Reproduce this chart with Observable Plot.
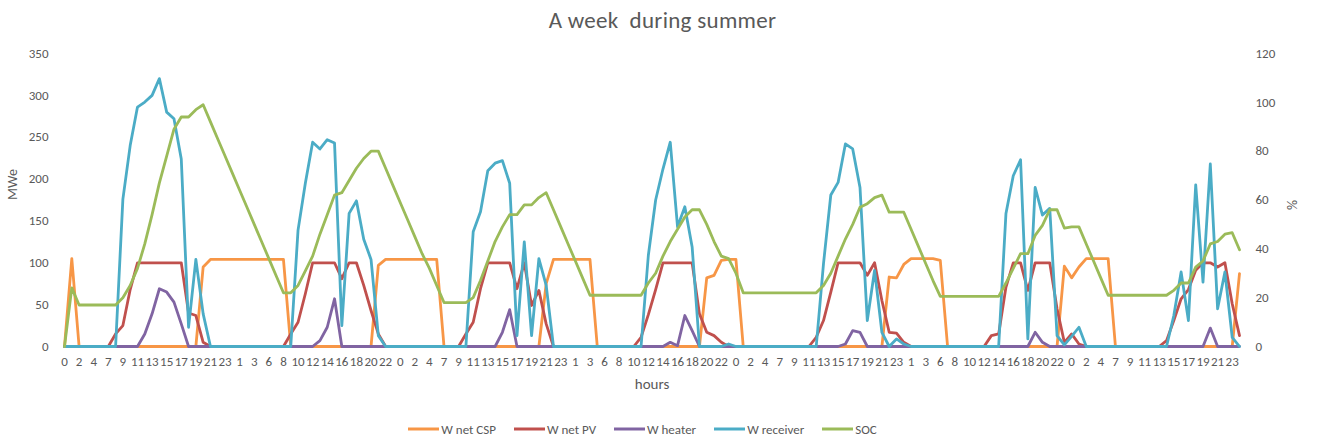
<!DOCTYPE html>
<html><head><meta charset="utf-8">
<script src="https://cdn.jsdelivr.net/npm/d3@7"></script>
<script src="https://cdn.jsdelivr.net/npm/@observablehq/plot@0.6"></script>
<style>
html,body{margin:0;padding:0;background:#fff}
body{width:1325px;height:444px;overflow:hidden;font-family:Carlito,Calibri,Lato,sans-serif;color:#595959}
#title{height:38px;line-height:40px;text-align:center;font-size:23px;white-space:pre;letter-spacing:0.3px}
#chart svg{display:block}
#legend{display:flex;justify-content:center;align-items:center;height:44px;font-size:13px;padding-right:40px;box-sizing:border-box;padding-top:14px}
.item{display:flex;align-items:center;margin:0 9px}
.item svg{margin-right:2px}
</style></head>
<body>
<div id="title">A week  during summer</div>
<div id="chart"></div>
<div id="legend"></div>
<script>
// hour categories (hour 5 absent in the source series)
const dayHours = [0,1,2,3,4,6,7,8,9,10,11,12,13,14,15,16,17,18,19,20,21,22,23];
const hourCats = [].concat(dayHours, dayHours, dayHours, dayHours, dayHours, dayHours, dayHours, [0]);

const seriesNames = ["W net CSP", "W net PV", "W heater", "W receiver", "SOC"];
const seriesColors = ["#F79646", "#C0504D", "#8064A2", "#4BACC6", "#9BBB59"];

const wNetCSP = [
  0,105,0,0,0,0,0,0,0,0,0,0,0,0,0,0,0,0,0,95,104,104,104,
  104,104,104,104,104,104,104,104,0,0,0,0,0,0,0,0,0,0,0,0,97,104,104,
  104,104,104,104,104,104,0,0,0,0,0,0,0,0,0,0,0,0,0,0,75,104,104,
  104,104,104,104,0,0,0,0,0,0,0,0,0,0,0,0,0,0,0,82,85,103,104,
  104,0,0,0,0,0,0,0,0,0,0,0,0,0,0,0,0,0,0,0,0,83,82,
  98,105,105,105,105,103,0,0,0,0,0,0,0,0,0,0,0,0,0,0,0,0,96,
  82,95,105,105,105,105,0,0,0,0,0,0,0,0,0,0,0,0,0,0,0,0,0,87
];
const wNetPV = [
  0,0,0,0,0,0,0,15,25,68,100,100,100,100,100,100,100,40,37,5,0,0,0,
  0,0,0,0,0,0,0,0,15,29,63,100,100,100,100,81,100,100,73,43,15,0,0,
  0,0,0,0,0,0,0,0,0,15,29,69,100,100,100,100,69,100,49,67,27,0,0,
  0,0,0,0,0,0,0,0,0,0,11,38,68,100,100,100,100,100,39,17,13,5,0,
  0,0,0,0,0,0,0,0,0,0,0,11,31,65,100,100,100,100,85,100,55,17,16,
  5,0,0,0,0,0,0,0,0,0,0,0,13,15,71,100,100,67,100,100,100,45,5,
  15,3,0,0,0,0,0,0,0,0,0,0,0,7,31,57,68,91,100,100,95,100,51,13
];
const wHeater = [
  0,0,0,0,0,0,0,0,0,0,0,15,39,69,65,53,27,0,0,0,0,0,0,
  0,0,0,0,0,0,0,0,0,0,0,0,7,23,57,0,0,0,0,0,0,0,0,
  0,0,0,0,0,0,0,0,0,0,0,0,0,0,17,44,0,0,0,0,0,0,0,
  0,0,0,0,0,0,0,0,0,0,0,0,0,0,5,1,37,19,0,0,0,0,0,
  0,0,0,0,0,0,0,0,0,0,0,0,0,0,0,3,19,17,0,0,0,0,0,
  0,0,0,0,0,0,0,0,0,0,0,0,0,0,0,0,0,0,17,5,0,0,0,
  0,0,0,0,0,0,0,0,0,0,0,0,0,0,0,0,0,0,0,22,0,0,0,0
];
const wReceiver = [
  0,0,0,0,0,0,0,0,176,240,286,292,300,320,280,272,224,23,104,39,0,0,0,
  0,0,0,0,0,0,0,0,0,139,195,244,236,247,243,25,159,174,128,104,13,0,0,
  0,0,0,0,0,0,0,0,0,0,137,161,210,219,222,195,13,125,13,105,73,0,0,
  0,0,0,0,0,0,0,0,0,0,0,109,175,212,244,143,167,119,0,0,0,0,3,
  0,0,0,0,0,0,0,0,0,0,0,0,99,181,196,242,236,190,31,91,17,0,9,
  3,0,0,0,0,0,0,0,0,0,0,0,0,0,159,204,223,9,190,157,165,13,2,
  12,23,0,0,0,0,0,0,0,0,0,0,0,0,37,89,31,193,77,218,45,89,11,0
];
const socPct = [
  0,24,17,17,17,17,17,17,20,25,32,42,54,67,78,89,94,94,97,99,92,85,78,
  71,64,57,50,43,36,29,22,22,25,31,37,46,54,62,63,68,73,77,80,80,73,66,
  59,52,45,38,32,25,18,18,18,18,20,27,35,43,49,54,54,58,58,61,63,56,49,
  42,35,28,21,21,21,21,21,21,21,21,26,30,37,43,48,53,56,56,50,43,37,36,
  30,22,22,22,22,22,22,22,22,22,22,22,25,30,37,44,50,57,58.5,61,62,55,55,
  55,48,41,34,27,20.5,20.5,20.5,20.5,20.5,20.5,20.5,20.5,20.5,26,32,38,38,45.5,49.6,56,56,48.5,
  49,49,42,35,28,21,21,21,21,21,21,21,21,21,23,26,26,32.5,35,42,43,46,46.6,39.6
];

const leftTicks = [0,50,100,150,200,250,300,350];
const rightTicks = [0,20,40,60,80,100,120];
const leftMax = 350, rightMax = 120;

const idx = hourCats.map((_, i) => i);
const toLeft = p => p * leftMax / rightMax;
const seriesValues = [wNetCSP, wNetPV, wHeater, wReceiver, socPct.map(toLeft)];

const font = "Carlito, Calibri, Lato, sans-serif";
const plot = Plot.plot({
  width: 1325,
  height: 362,
  marginTop: 15,
  marginBottom: 54,
  marginLeft: 64,
  marginRight: 86,
  style: {fontFamily: font, fontSize: "13px", color: "#595959", background: "#fff"},
  x: {type: "linear", domain: [0, hourCats.length - 1]},
  y: {domain: [0, leftMax]},
  marks: [
    Plot.ruleY([0], {stroke: "#d9d9d9", strokeWidth: 1}),
    ...seriesValues.map((vals, k) =>
      Plot.line(idx, {x: i => i, y: i => vals[i], stroke: seriesColors[k], strokeWidth: 2.8, strokeLinejoin: "round", strokeLinecap: "round"})
    ),
    Plot.axisX({ticks: idx.filter(i => i % 2 === 0), tickFormat: i => String(hourCats[i]), tickSize: 0, tickPadding: 10, label: null, fontSize: 13}),
    Plot.axisY({anchor: "left", ticks: leftTicks, tickSize: 0, tickPadding: 16, label: null, fontSize: 13}),
    Plot.axisY({anchor: "right", ticks: rightTicks.map(toLeft), tickFormat: d => String(Math.round(d * rightMax / leftMax)), tickSize: 0, tickPadding: 16, label: null, fontSize: 13}),
    Plot.text(["MWe"], {frameAnchor: "left", dx: -52, rotate: -90, fontSize: 14, fill: "#595959"}),
    Plot.text(["%"], {frameAnchor: "right", dx: 53, rotate: -90, fontSize: 14, fill: "#595959"}),
    Plot.text(["hours"], {frameAnchor: "bottom", dy: 42, fontSize: 15, fill: "#595959"})
  ]
});
document.getElementById("chart").appendChild(plot);

const legend = document.getElementById("legend");
seriesNames.forEach((name, k) => {
  const item = document.createElement("div");
  item.className = "item";
  item.innerHTML = `<svg width="31" height="6"><line x1="0" y1="3" x2="31" y2="3" stroke="${seriesColors[k]}" stroke-width="3"/></svg><span>${name}</span>`;
  legend.appendChild(item);
});
</script>
</body></html>
